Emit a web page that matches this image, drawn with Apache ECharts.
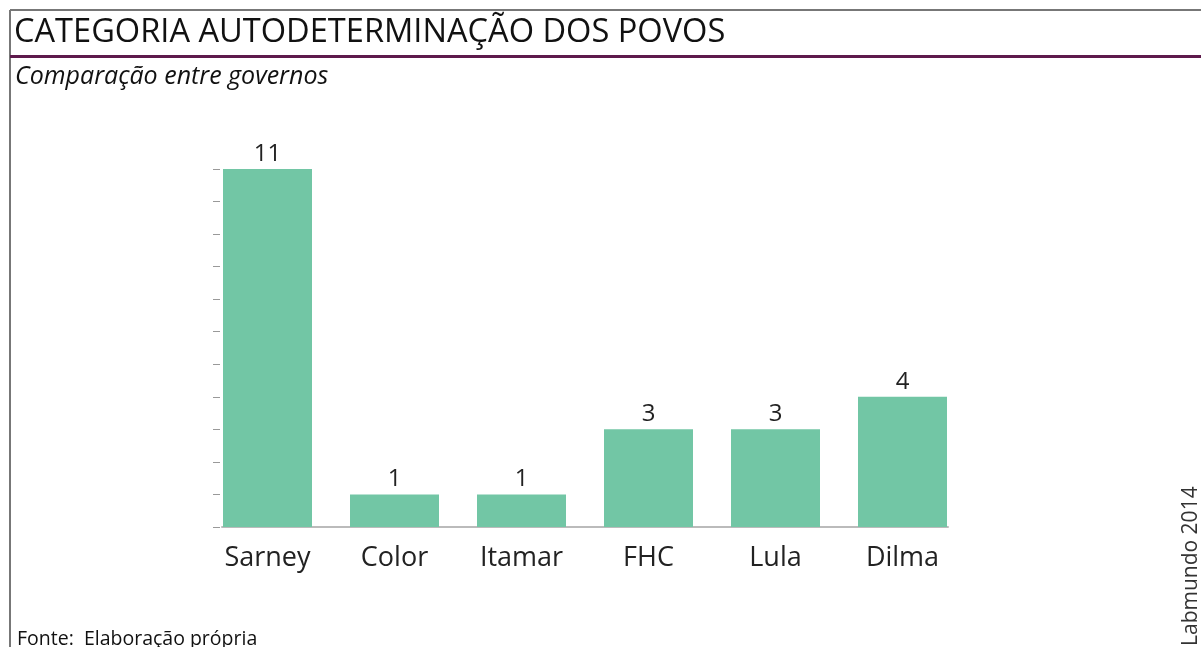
<!DOCTYPE html>
<html>
<head>
<meta charset="utf-8">
<script src="https://cdn.jsdelivr.net/npm/echarts@6/dist/echarts.min.js"></script>
<style>
  html, body { margin: 0; padding: 0; background: #fff; }
  #chart { width: 1201px; height: 647px; }
</style>
</head>
<body>
<div id="chart"></div>
<script>
// governos e número de votos na categoria
var governos = ['Sarney', 'Color', 'Itamar', 'FHC', 'Lula', 'Dilma'];
var valores = [11, 1, 1, 3, 3, 4];

var chart = echarts.init(document.getElementById('chart'));
var fonte = '"Open Sans", "Noto Sans", sans-serif';

var option = {
    backgroundColor: '#fff',
    animation: false,
    title: [
        {
            text: 'CATEGORIA AUTODETERMINAÇÃO DOS POVOS',
            left: 9, top: 11,
            textStyle: { fontFamily: fonte, fontSize: 32.6, fontWeight: 'normal', color: '#111' }
        },
        {
            text: 'Comparação entre governos',
            left: 10, top: 59,
            textStyle: { fontFamily: fonte, fontSize: 25, fontStyle: 'italic', fontWeight: 'normal', color: '#111' }
        },
        {
            text: 'Fonte:  Elaboração própria',
            left: 12, top: 624,
            textStyle: { fontFamily: fonte, fontSize: 19.5, fontWeight: 'normal', color: '#111' }
        }
    ],
    graphic: [
        // moldura
        { type: 'line', shape: { x1: 10, y1: 10, x2: 1201, y2: 10 }, style: { stroke: '#777', lineWidth: 2 } },
        { type: 'line', shape: { x1: 10, y1: 10, x2: 10, y2: 647 }, style: { stroke: '#777', lineWidth: 2 } },
        // linha do título
        { type: 'line', shape: { x1: 10, y1: 56.5, x2: 1201, y2: 56.5 }, style: { stroke: '#5e1a4c', lineWidth: 3 } },
        {
            type: 'text', x: 1202, y: 646, rotation: Math.PI / 2,
            style: { text: 'Labmundo 2014', font: '21px "Open Sans", sans-serif', fill: '#333', textAlign: 'left', textVerticalAlign: 'bottom' }
        }
    ],
    grid: [
        { left: 204, right: 235, top: 169, bottom: 120 },
        { left: 222, right: 253, top: 169, bottom: 120 }
    ],
    xAxis: [
        {
            type: 'category', gridIndex: 0, data: governos,
            axisLine: { show: false },
            axisTick: { show: false },
            axisLabel: { fontFamily: fonte, fontSize: 27, color: '#222', margin: 18 }
        },
        {
            type: 'category', gridIndex: 1, data: governos,
            axisLine: { show: true, lineStyle: { color: '#bbb', width: 2 } },
            axisTick: { show: false },
            axisLabel: { show: false }
        }
    ],
    yAxis: [
        {
            type: 'value', gridIndex: 0, min: 0, max: 11, interval: 1,
            offset: -9,
            axisLine: { show: false },
            axisTick: { show: true, inside: true, length: 7, lineStyle: { color: '#999' } },
            axisLabel: { show: false },
            splitLine: { show: false }
        },
        {
            type: 'value', gridIndex: 1, min: 0, max: 11, show: false
        }
    ],
    series: [
        {
            type: 'bar',
            xAxisIndex: 0, yAxisIndex: 0,
            data: valores,
            barWidth: 89,
            itemStyle: { color: '#72c6a5' },
            label: {
                show: true, position: 'top', distance: 3,
                fontFamily: fonte, fontSize: 24, color: '#222'
            }
        }
    ]
};

chart.setOption(option);
</script>
</body>
</html>
